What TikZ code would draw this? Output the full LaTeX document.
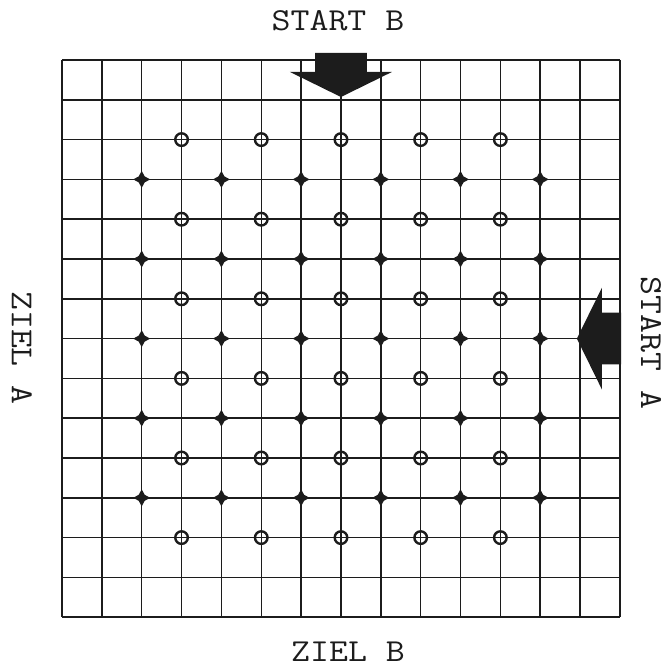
\documentclass[tikz,border=0pt]{standalone}
\usepackage{fontspec}
\usepackage{graphicx}
\usetikzlibrary{calc}
\definecolor{InkBlack}{RGB}{28,28,28}
\newcommand{\boardtext}[1]{\scalebox{1.15}[1]{#1}}

\tikzset{
  gridline/.style={line width=1.5pt, draw=InkBlack},
  hole/.style={line width=2.4pt, draw=InkBlack},
  boardlabel/.style={font=\fontsize{32}{32}\selectfont\ttfamily, text=InkBlack, inner sep=0pt},
  crossmark/.pic={
    \fill[InkBlack] (8.5pt,0) -- (3pt,3pt) -- (0,8.5pt) -- (-3pt,3pt)
      -- (-8.5pt,0) -- (-3pt,-3pt) -- (0,-8.5pt) -- (3pt,-3pt) -- cycle;
  }
}

\begin{document}
\begin{tikzpicture}[x=1pt, y=-1pt]
        \useasboundingbox (0,0) rectangle (672,668);
        \node[boardlabel] (startB) at (338,21) {\boardtext{START B}};
        \node[boardlabel] (zielB) at (348,652) {\boardtext{ZIEL B}};
        \node[boardlabel, rotate=-90] (zielA) at (22,348) {\boardtext{ZIEL A}};
        \node[boardlabel, rotate=-90] (startA) at (651,343) {\boardtext{START A}};
        \begin{scope}[xshift=62pt, yshift=-60pt, x=39.85pt, y=-39.8pt]
          % board
          \foreach \i in {0,...,14} {
            \draw[gridline] (\i,0) -- (\i,14);
            \draw[gridline] (0,\i) -- (14,\i);
          }
          \foreach \cx in {3,5,...,11}
            \foreach \cy in {2,4,...,12}
              \draw[hole] (\cx,\cy) circle[radius=6.3pt];
          \foreach \cx in {2,4,...,12}
            \foreach \cy in {3,5,...,11}
              \pic at (\cx,\cy) {crossmark};
          % start arrows
          \fill[InkBlack] (6.35,-0.18) -- (7.65,-0.18) -- (7.65,0.3) -- (8.28,0.3)
            -- (7,0.93) -- (5.72,0.3) -- (6.35,0.3) -- cycle;
          \fill[InkBlack] (14.03,6.35) -- (14.03,7.65) -- (13.55,7.65) -- (13.55,8.28)
            -- (12.92,7) -- (13.55,5.72) -- (13.55,6.35) -- cycle;
        \end{scope}
      \end{tikzpicture}
\end{document}
